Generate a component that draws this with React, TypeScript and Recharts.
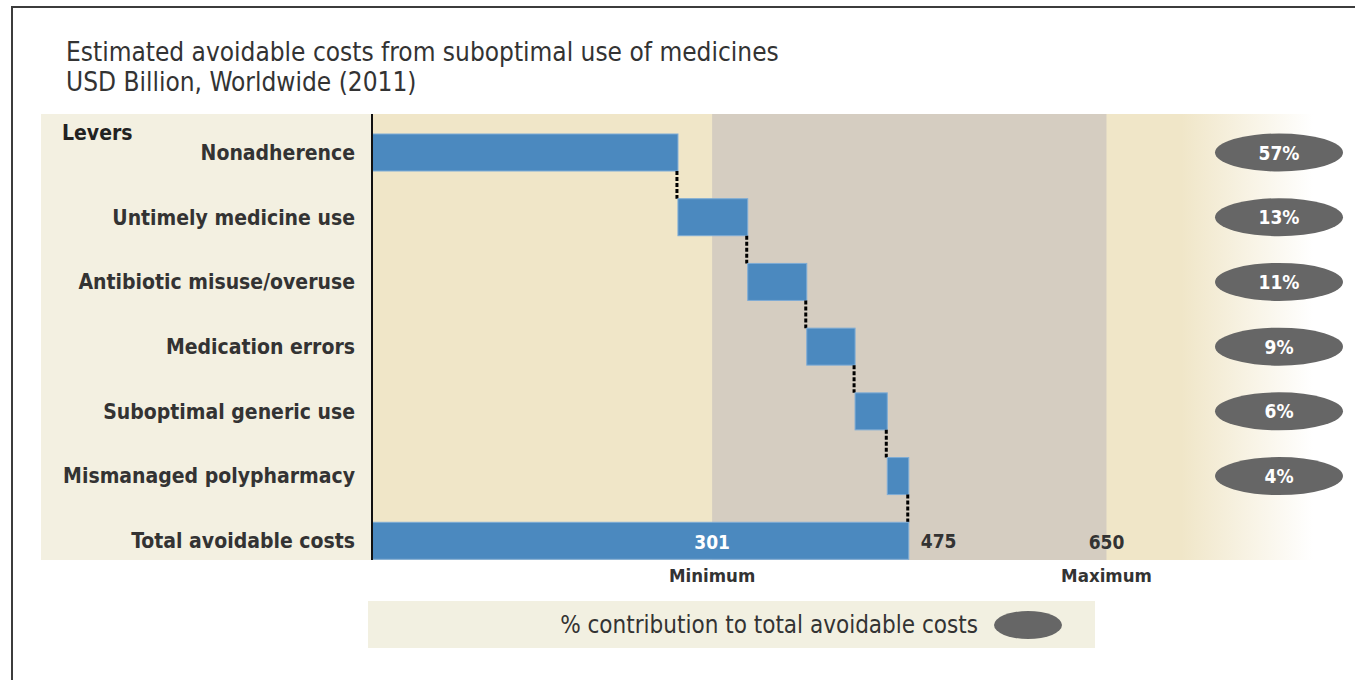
import React from "react";
import { BarChart, Bar, XAxis, YAxis, ReferenceArea, ReferenceLine, LabelList } from "recharts";

// Levers of avoidable cost, USD billion worldwide (2011)
const levers = [
  "Nonadherence",
  "Untimely medicine use",
  "Antibiotic misuse/overuse",
  "Medication errors",
  "Suboptimal generic use",
  "Mismanaged polypharmacy",
];
const shares = [57, 13, 11, 9, 6, 4];
const totalLabel = "Total avoidable costs";
const totalCost = 475;
const minCost = 301;
const maxCost = 650;

const FONT = '"DejaVu Sans Condensed", "Liberation Sans Narrow", "DejaVu Sans", sans-serif';
const BLUE = "#4b89bf";
const TEXT = "#333333";

const W = 1355;
const H = 680;
const PLOT_TOP = 114;
const PLOT_BOTTOM = 560;
const AXIS_X = 372;
const BAR = 37;
const PAD_TOP = 6;
const PAD_BOTTOM = -13;

// waterfall rows: transparent base + visible step
let running = 0;
const rows = levers.map((name, i) => {
  const value = (totalCost * shares[i]) / 100;
  const row = { name, base: running, value, share: shares[i] as number | null };
  running += value;
  return row;
});
rows.push({ name: totalLabel, base: 0, value: totalCost, share: null });

const rowStep = (PLOT_BOTTOM - PAD_BOTTOM - PLOT_TOP - PAD_TOP) / rows.length;

const StepBar = (props: any) => {
  const { x, y, width, height, index } = props;
  const hasNext = index < rows.length - 1;
  return (
    <g>
      <rect x={x} y={y} width={width} height={height} fill={BLUE} stroke="#7eacd6" strokeWidth={1} />
      {hasNext && (
        <line
          x1={x + width - 1}
          x2={x + width - 1}
          y1={y + height}
          y2={y + height + rowStep - BAR}
          stroke="#000"
          strokeWidth={3}
          strokeDasharray="4 2"
        />
      )}
    </g>
  );
};

// min–max range band, kept inside the panel
const RangeBand = (props: any) => (
  <rect x={props.x} y={PLOT_TOP} width={props.width} height={PLOT_BOTTOM - PLOT_TOP} fill="#d5cdc1" />
);

const ShareBadge = (props: any) => {
  const { y, height, value } = props;
  if (value == null) return null;
  const cy = y + height / 2;
  return (
    <g>
      <ellipse cx={1279} cy={cy} rx={64} ry={19} fill="#666666" />
      <text x={1279} y={cy} dy={7} textAnchor="middle" fill="#fff" fontFamily={FONT} fontWeight="bold" fontSize={19}>
        {`${value}%`}
      </text>
    </g>
  );
};

const TotalValue = (props: any) => {
  const { x, y, width, height, index, value } = props;
  if (index !== rows.length - 1) return null;
  return (
    <text x={x + width + 12} y={y + height / 2} dy={7} fill={TEXT} fontFamily={FONT} fontWeight="bold" fontSize={19}>
      {value}
    </text>
  );
};

const rangeMark = (value: number, caption: string, color: string) => (props: any) => {
  const { viewBox } = props;
  const bottom = PLOT_BOTTOM;
  return (
    <g fontFamily={FONT}>
      <text x={viewBox.x} y={bottom - BAR / 2} dy={7} textAnchor="middle" fill={color} fontWeight="bold" fontSize={19}>
        {value}
      </text>
      <text x={viewBox.x} y={bottom + 16} dy={6} textAnchor="middle" fill={TEXT} fontWeight="bold" fontSize={18.5}>
        {caption}
      </text>
    </g>
  );
};

export default function App() {
  return (
    <div style={{ position: "relative", width: W, height: H, overflow: "hidden", background: "#fff", fontFamily: FONT }}>
      <style>{"body{margin:0}"}</style>
      <div style={{ position: "absolute", left: 11, top: 6, width: W, height: H, borderLeft: "2px solid #3c3c3c", borderTop: "2px solid #3c3c3c" }} />
      <div style={{ position: "absolute", left: 66, top: 37, fontSize: 26, lineHeight: "30px", color: TEXT }}>
        <div>Estimated avoidable costs from suboptimal use of medicines</div>
        <div>USD Billion, Worldwide (2011)</div>
      </div>
      <div style={{ position: "absolute", left: 41, top: PLOT_TOP, width: AXIS_X - 41, height: PLOT_BOTTOM - PLOT_TOP, background: "#f3f0e1" }} />
      <div
        style={{
          position: "absolute",
          left: AXIS_X,
          top: PLOT_TOP,
          width: 1313 - AXIS_X,
          height: PLOT_BOTTOM - PLOT_TOP,
          background: "linear-gradient(to right, #f0e6c8 0%, #f0e6c8 86%, #ffffff 100%)",
        }}
      />
      <div style={{ position: "absolute", left: 62, top: 121, fontSize: 21, fontWeight: "bold", color: "#222" }}>Levers</div>

      <div style={{ position: "absolute", left: 0, top: 0 }}>
        <BarChart
          width={W}
          height={H}
          data={rows}
          layout="vertical"
          margin={{ top: PLOT_TOP, bottom: H - PLOT_BOTTOM, left: 42, right: 79 }}
          barSize={BAR}
        >
          <XAxis type="number" domain={[0, 800]} hide />
          <YAxis
            type="category"
            dataKey="name"
            width={AXIS_X - 42}
            padding={{ top: PAD_TOP, bottom: PAD_BOTTOM }}
            axisLine={{ stroke: "#111", strokeWidth: 2 }}
            tickLine={false}
            tickSize={0}
            tickMargin={17}
            tick={{ fill: TEXT, fontSize: 21, fontFamily: FONT, fontWeight: 600 }}
            interval={0}
          />
          <ReferenceArea x1={minCost} x2={maxCost} shape={RangeBand} />
          <Bar dataKey="base" stackId="w" fill="transparent" isAnimationActive={false} />
          <Bar dataKey="value" stackId="w" shape={StepBar} isAnimationActive={false}>
            <LabelList dataKey="share" content={ShareBadge} />
            <LabelList dataKey="value" content={TotalValue} />
          </Bar>
          <ReferenceLine x={minCost} stroke="none" label={rangeMark(minCost, "Minimum", "#ffffff")} />
          <ReferenceLine x={maxCost} stroke="none" label={rangeMark(maxCost, "Maximum", TEXT)} />
        </BarChart>
      </div>

      <div
        style={{
          position: "absolute",
          left: 368,
          top: 601,
          width: 727,
          height: 47,
          background: "#f2f0e1",
          display: "flex",
          alignItems: "center",
          justifyContent: "flex-end",
          fontSize: 24,
          color: TEXT,
        }}
      >
        <span>% contribution to total avoidable costs</span>
        <span style={{ display: "inline-block", width: 68, height: 28, borderRadius: "50%", background: "#666", margin: "0 33px 0 16px" }} />
      </div>
    </div>
  );
}
